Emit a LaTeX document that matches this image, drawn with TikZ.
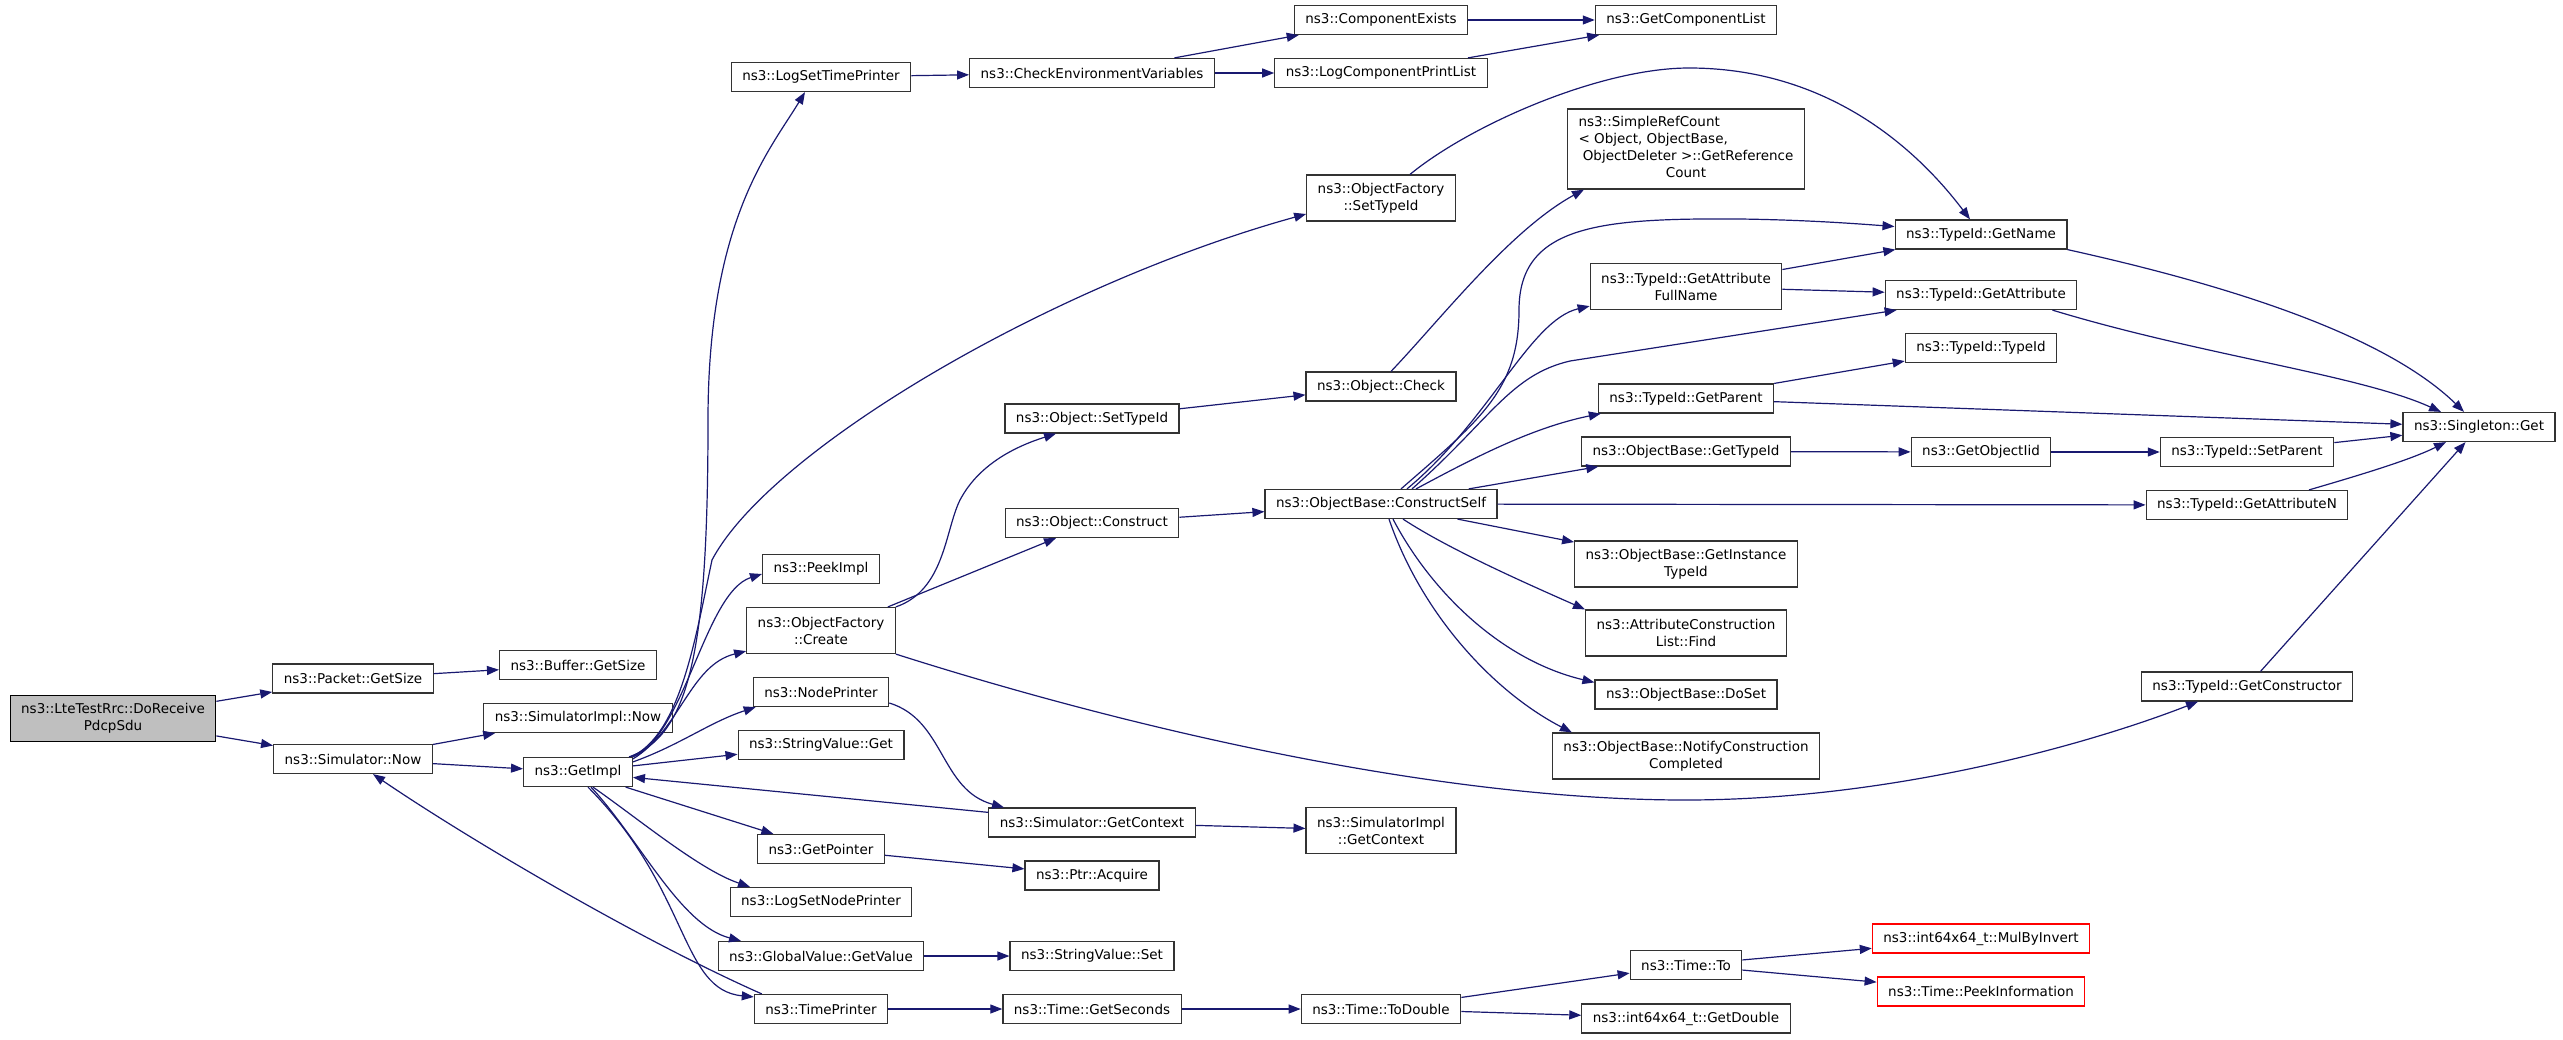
\documentclass[tikz,border=0pt]{standalone}
\usepackage{fontspec}
\setmainfont{DejaVu Sans}
\usepackage{tikz}
\usetikzlibrary{positioning}
\usetikzlibrary{arrows.meta}
\definecolor{callblue}{RGB}{25,25,112}
\definecolor{rootgray}{RGB}{191,191,191}
\tikzset{
    call graph/.style={
            x=1pt,y=-1pt,
            fn/.style={draw=black!80,line width=1.2pt,fill=white,align=center,
                    inner xsep=11pt,inner ysep=4pt,minimum height=29pt,
                    font=\fontsize{13.5}{17}\selectfont},
            fntwo/.style={fn,minimum height=46pt},
            root/.style={fntwo,fill=rootgray,draw=black},
            extern/.style={fn,draw=red},
            arrow/.style={-{Stealth[inset=0pt,length=12pt,width=9pt]},draw=callblue,line width=1.2pt}
        }
    }

\begin{document}
\begin{tikzpicture}[call graph]
    \useasboundingbox (0,0) rectangle (2563,1039);
    \node[root] (dorecv) at (113,718.5) {ns3::LteTestRrc::DoReceive\\PdcpSdu};
    \node[fn] (pktsize) at (353,678.5) {ns3::Packet::GetSize};
    \node[fn] (simnow) at (353,759) {ns3::Simulator::Now};
    \node[fn] (bufsize) at (578,665) {ns3::Buffer::GetSize};
    \node[fn] (simimplnow) at (578,718) {ns3::SimulatorImpl::Now};
    \node[fn] (getimpl) at (578,772) {ns3::GetImpl};
    \node[fn] (logsettime) at (821,77) {ns3::LogSetTimePrinter};
    \node[fn] (peekimpl) at (821,569) {ns3::PeekImpl};
    \node[fntwo] (factcreate) at (821,630.5) {ns3::ObjectFactory\\::Create};
    \node[fn] (nodeprinter) at (821,692) {ns3::NodePrinter};
    \node[fn] (strget) at (821,745) {ns3::StringValue::Get};
    \node[fn] (getpointer) at (821,849) {ns3::GetPointer};
    \node[fn] (lognodeprinter) at (821,902) {ns3::LogSetNodePrinter};
    \node[fn] (gvgetvalue) at (821,956) {ns3::GlobalValue::GetValue};
    \node[fn] (timeprinter) at (821,1009) {ns3::TimePrinter};
    \node[fn] (checkenv) at (1092,73) {ns3::CheckEnvironmentVariables};
    \node[fn] (objsettypeid) at (1092,418.5) {ns3::Object::SetTypeId};
    \node[fn] (objconstruct) at (1092,523) {ns3::Object::Construct};
    \node[fn] (simgetctx) at (1092,822.5) {ns3::Simulator::GetContext};
    \node[fn] (ptracquire) at (1092,875.5) {ns3::Ptr::Acquire};
    \node[fn] (strset) at (1092,956) {ns3::StringValue::Set};
    \node[fn] (getseconds) at (1092,1009) {ns3::Time::GetSeconds};
    \node[fn] (compexists) at (1381,20) {ns3::ComponentExists};
    \node[fn] (logcomplist) at (1381,73) {ns3::LogComponentPrintList};
    \node[fntwo] (factsettypeid) at (1381,198) {ns3::ObjectFactory\\::SetTypeId};
    \node[fn] (objcheck) at (1381,386.5) {ns3::Object::Check};
    \node[fn] (constructself) at (1381,504) {ns3::ObjectBase::ConstructSelf};
    \node[fntwo] (implgetctx) at (1381,830.5) {ns3::SimulatorImpl\\::GetContext};
    \node[fn] (todouble) at (1381,1009) {ns3::Time::ToDouble};
    \node[fn] (getcomplist) at (1686,20) {ns3::GetComponentList};
    \node[fn,minimum height=80pt] (refcount) at (1686,149) {\begin{tabular}{@{}l@{}}ns3::SimpleRefCount\\< Object, ObjectBase,\\\ ObjectDeleter >::GetReference\\\multicolumn{1}{@{}c@{}}{Count}\end{tabular}};
    \node[fntwo] (attrfullname) at (1686,286.5) {ns3::TypeId::GetAttribute\\FullName};
    \node[fn] (getparent) at (1686,398.5) {ns3::TypeId::GetParent};
    \node[fn] (obgettypeid) at (1686,451.5) {ns3::ObjectBase::GetTypeId};
    \node[fntwo] (insttypeid) at (1686,564) {ns3::ObjectBase::GetInstance\\TypeId};
    \node[fntwo] (attrfind) at (1686,633) {ns3::AttributeConstruction\\List::Find};
    \node[fn] (doset) at (1686,694.5) {ns3::ObjectBase::DoSet};
    \node[fntwo] (notifydone) at (1686,756) {ns3::ObjectBase::NotifyConstruction\\Completed};
    \node[fn] (timeto) at (1686,965) {ns3::Time::To};
    \node[fn] (getdouble) at (1686,1018.5) {ns3::int64x64\_t::GetDouble};
    \node[fn] (getname) at (1981,234.5) {ns3::TypeId::GetName};
    \node[fn] (getattr) at (1981,295) {ns3::TypeId::GetAttribute};
    \node[fn] (typeidctor) at (1981,348) {ns3::TypeId::TypeId};
    \node[fn] (getobjiid) at (1981,452) {ns3::GetObjectIid};
    \node[extern] (mulbyinv) at (1981,938.5) {ns3::int64x64\_t::MulByInvert};
    \node[extern] (peekinfo) at (1981,991.5) {ns3::Time::PeekInformation};
    \node[fn] (setparent) at (2247,452) {ns3::TypeId::SetParent};
    \node[fn] (getattrn) at (2247,505) {ns3::TypeId::GetAttributeN};
    \node[fn] (getctor) at (2247,686.5) {ns3::TypeId::GetConstructor};
    \node[fn] (singleton) at (2479,427) {ns3::Singleton::Get};

    \draw [arrow] (dorecv) -- (pktsize);
    \draw [arrow] (dorecv) -- (simnow);
    \draw [arrow] (pktsize) -- (bufsize);
    \draw [arrow] (simnow) -- (simimplnow);
    \draw [arrow] (simnow) -- (getimpl);
    \draw [arrow] ([xshift=-4pt]getimpl.north east) .. controls (690,735) and (708,650) .. (708,420) .. controls (708,220) and (770,150) .. ([xshift=-16pt]logsettime.south);
    \draw [arrow] ([xshift=-2pt]getimpl.north east) .. controls (680,735) and (695,640) .. (712,560) .. controls (770,450) and (1050,285) .. ([yshift=-16pt]factsettypeid.west);
    \draw [arrow] (getimpl.north east) .. controls (685,735) and (705,592) .. ([yshift=-5pt]peekimpl.west);
    \draw [arrow] ([yshift=-2pt]getimpl.north east) .. controls (680,730) and (690,665) .. ([yshift=3pt]factcreate.south west);
    \draw [arrow] ([yshift=-5pt]getimpl.north east) .. controls (680,745) and (710,722) .. ([xshift=3pt]nodeprinter.south west);
    \draw [arrow] (getimpl) -- (strget);
    \draw [arrow] (simgetctx) -- (getimpl);
    \draw [arrow] (getimpl) -- (getpointer);
    \draw [arrow] ([xshift=15pt]getimpl.south) .. controls (640,820) and (700,870) .. ([xshift=-71pt]lognodeprinter.north);
    \draw [arrow] ([xshift=13pt]getimpl.south) .. controls (640,840) and (680,925) .. ([xshift=-80pt]gvgetvalue.north);
    \draw [arrow] ([xshift=10pt]getimpl.south) .. controls (690,890) and (680,990) .. ([yshift=-3pt]timeprinter.north west);
    \draw [arrow] ([xshift=8pt]timeprinter.north west) .. controls (640,940) and (470,840) .. ([xshift=20pt]simnow.south);
    \draw [arrow] (logsettime) -- (checkenv);
    \draw [arrow] (checkenv) -- (compexists);
    \draw [arrow] (checkenv) -- (logcomplist);
    \draw [arrow] (compexists) -- (getcomplist);
    \draw [arrow] (logcomplist) -- (getcomplist);
    \draw [arrow] ([xshift=29pt]factsettypeid.north) .. controls (1470,125) and (1600,68) .. (1689,68) .. controls (1820,68) and (1910,140) .. ([xshift=-11pt]getname.north);
    \draw [arrow] (factcreate.north east) .. controls (945,590) and (945,530) .. (960,500) .. controls (980,462) and (1020,445) .. ([xshift=-36pt]objsettypeid.south);
    \draw [arrow] ([xshift=-8pt]factcreate.north east) -- ([xshift=-36pt]objconstruct.south);
    \draw [arrow] (factcreate.south east) .. controls (1150,735) and (1450,800) .. (1685,800) .. controls (1900,800) and (2100,740) .. ([xshift=-49pt]getctor.south);
    \draw [arrow] (objsettypeid) -- (objcheck);
    \draw [arrow] ([xshift=10pt]objcheck.north) .. controls (1440,320) and (1510,230) .. ([xshift=17pt]refcount.south west);
    \draw [arrow] (objconstruct) -- (constructself);
    \draw [arrow] ([xshift=20pt]constructself.north) .. controls (1480,420) and (1519,390) .. (1519,310) .. controls (1519,225) and (1600,218) .. (1740,219) .. controls (1810,220) and (1860,224) .. ([yshift=8pt]getname.west);
    \draw [arrow] ([xshift=26pt]constructself.north) .. controls (1490,420) and (1530,320) .. ([yshift=4pt]attrfullname.south west);
    \draw [arrow] ([xshift=31pt]constructself.north) .. controls (1490,420) and (1510,375) .. (1570,361) -- ([xshift=12pt]getattr.south west);
    \draw [arrow] ([xshift=35pt]constructself.north) .. controls (1470,460) and (1530,428) .. ([xshift=3pt]getparent.south west);
    \draw [arrow] (constructself) -- (obgettypeid);
    \draw [arrow] (constructself) -- (getattrn);
    \draw [arrow] (constructself) -- (insttypeid);
    \draw [arrow] ([xshift=22pt]constructself.south) .. controls (1450,550) and (1530,585) .. (attrfind.north west);
    \draw [arrow] ([xshift=12pt]constructself.south) .. controls (1430,590) and (1500,660) .. ([yshift=-3pt]doset.north west);
    \draw [arrow] ([xshift=8pt]constructself.south) .. controls (1420,610) and (1490,690) .. ([xshift=20pt]notifydone.north west);
    \draw [arrow] (attrfullname) -- (getname);
    \draw [arrow] (attrfullname) -- (getattr);
    \draw [arrow] (getname.south east) .. controls (2250,290) and (2390,340) .. ([xshift=-15pt]singleton.north);
    \draw [arrow] ([xshift=-25pt]getattr.south east) .. controls (2200,355) and (2360,375) .. ([xshift=-38pt]singleton.north);
    \draw [arrow] (getparent) -- (typeidctor);
    \draw [arrow] (getparent) -- (singleton);
    \draw [arrow] (obgettypeid) -- (getobjiid);
    \draw [arrow] (getobjiid) -- (setparent);
    \draw [arrow] (setparent) -- (singleton);
    \draw [arrow] ([xshift=62pt]getattrn.north) .. controls (2360,475) and (2410,460) .. ([xshift=-33pt]singleton.south);
    \draw [arrow] (getctor) -- (singleton);
    \draw [arrow] ([yshift=-11pt]nodeprinter.east) .. controls (945,720) and (940,790) .. ([xshift=-88pt]simgetctx.north);
    \draw [arrow] (simgetctx) -- (implgetctx);
    \draw [arrow] (getpointer) -- (ptracquire);
    \draw [arrow] (gvgetvalue) -- (strset);
    \draw [arrow] (timeprinter) -- (getseconds);
    \draw [arrow] (getseconds) -- (todouble);
    \draw [arrow] (todouble) -- (timeto);
    \draw [arrow] (todouble) -- (getdouble);
    \draw [arrow] (timeto) -- (mulbyinv);
    \draw [arrow] (timeto) -- (peekinfo);
\end{tikzpicture}
\end{document}
